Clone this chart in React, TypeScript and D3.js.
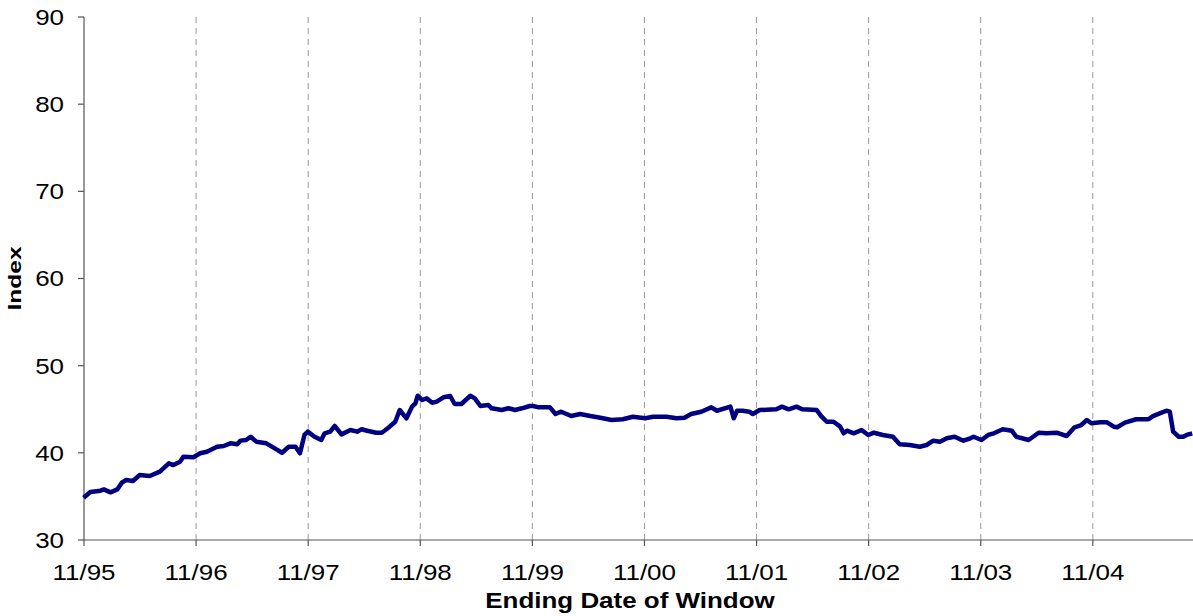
import React from "react";
import * as d3 from "d3";

// x: decimal year (11/95 = 1995.833), y: index value
const years: number[] = [
  1995.83, 1995.89, 1995.98, 1996.01, 1996.07, 1996.13, 1996.17, 1996.21, 1996.27, 1996.33,
  1996.42, 1996.51, 1996.59, 1996.63, 1996.69, 1996.72, 1996.81, 1996.87, 1996.93, 1997.02,
  1997.08, 1997.14, 1997.20, 1997.23, 1997.28, 1997.32, 1997.37, 1997.46, 1997.52, 1997.60,
  1997.66, 1997.72, 1997.76, 1997.80, 1997.83, 1997.89, 1997.95, 1997.98, 1998.03, 1998.07,
  1998.13, 1998.21, 1998.27, 1998.31, 1998.36, 1998.44, 1998.49, 1998.56, 1998.61, 1998.65,
  1998.71, 1998.76, 1998.79, 1998.81, 1998.85, 1998.89, 1998.94, 1998.98, 1999.04, 1999.10,
  1999.14, 1999.20, 1999.28, 1999.32, 1999.37, 1999.44, 1999.47, 1999.56, 1999.62, 1999.68,
  1999.74, 1999.81, 1999.84, 1999.89, 1999.99, 2000.04, 2000.09, 2000.18, 2000.26, 2000.35,
  2000.44, 2000.54, 2000.64, 2000.73, 2000.84, 2000.91, 2001.03, 2001.12, 2001.19, 2001.25,
  2001.34, 2001.43, 2001.48, 2001.60, 2001.63, 2001.66, 2001.71, 2001.77, 2001.80, 2001.86,
  2002.01, 2002.06, 2002.12, 2002.19, 2002.24, 2002.37, 2002.41, 2002.46, 2002.52, 2002.58,
  2002.61, 2002.64, 2002.70, 2002.77, 2002.83, 2002.88, 2002.96, 2003.05, 2003.11, 2003.20,
  2003.29, 2003.35, 2003.41, 2003.47, 2003.53, 2003.60, 2003.65, 2003.68, 2003.74, 2003.77,
  2003.84, 2003.90, 2003.95, 2004.03, 2004.11, 2004.15, 2004.26, 2004.35, 2004.42, 2004.51,
  2004.60, 2004.67, 2004.73, 2004.78, 2004.82, 2004.90, 2004.96, 2005.02, 2005.05, 2005.12,
  2005.22, 2005.33, 2005.37, 2005.43, 2005.49, 2005.52, 2005.55, 2005.60, 2005.64, 2005.67,
  2005.72,
];

const indexValues: number[] = [
  34.85, 35.5, 35.66, 35.8, 35.47, 35.8, 36.57, 36.88, 36.77, 37.46,
  37.34, 37.84, 38.8, 38.6, 38.98, 39.56, 39.49, 39.95, 40.13, 40.7,
  40.78, 41.09, 40.98, 41.4, 41.47, 41.85, 41.28, 41.09, 40.63, 40.01,
  40.7, 40.7, 39.95, 42.05, 42.43, 41.85, 41.47, 42.24, 42.43, 43.08,
  42.12, 42.62, 42.43, 42.7, 42.54, 42.31, 42.31, 43.0, 43.57, 44.91,
  43.96, 45.3, 45.68, 46.55, 46.06, 46.25, 45.75, 45.87, 46.37, 46.52,
  45.6, 45.6, 46.55, 46.25, 45.37, 45.49, 45.11, 44.91, 45.11, 44.91,
  45.11, 45.37, 45.37, 45.22, 45.22, 44.45, 44.72, 44.22, 44.45, 44.22,
  44.03, 43.77, 43.85, 44.14, 43.96, 44.14, 44.14, 43.96, 44.03, 44.45,
  44.72, 45.22, 44.83, 45.3, 43.96, 44.83, 44.83, 44.72, 44.45, 44.91,
  44.99, 45.3, 44.99, 45.3, 44.99, 44.91, 44.22, 43.57, 43.57, 43.0,
  42.24, 42.54, 42.24, 42.62, 42.05, 42.31, 42.05, 41.85, 40.98, 40.9,
  40.7, 40.9, 41.39, 41.28, 41.67, 41.85, 41.55, 41.39, 41.67, 41.85,
  41.47, 42.05, 42.24, 42.7, 42.54, 41.85, 41.47, 42.31, 42.24, 42.31,
  41.93, 42.93, 43.19, 43.77, 43.39, 43.5, 43.5, 43.0, 42.93, 43.46,
  43.85, 43.85, 44.22, 44.53, 44.83, 44.72, 42.43, 41.85, 41.85, 42.05,
  42.24,
];

const xTickYears: number[] = [1995.8333, 1996.8333, 1997.8333, 1998.8333, 1999.8333, 2000.8333, 2001.8333, 2002.8333, 2003.8333, 2004.8333];
const xTickLabels: string[] = ["11/95", "11/96", "11/97", "11/98", "11/99", "11/00", "11/01", "11/02", "11/03", "11/04"];
const yTicks: number[] = [30, 40, 50, 60, 70, 80, 90];

const W = 1193;
const H = 616;
const left = 84;
const right = 1193;
const top = 17;
const bottom = 540;
const SX = 1.18; // horizontal stretch of text seen in the reference
const FONT = "'Liberation Sans', Arial, sans-serif";

export default function App() {
  const x = d3.scaleLinear().domain([1995.8333, 2005.727]).range([left, right]);
  const y = d3.scaleLinear().domain([30, 90]).range([bottom, top]);
  const pts: [number, number][] = years.map((t, i) => [t, indexValues[i]]);
  const line = d3
    .line<[number, number]>()
    .x((d) => x(d[0]))
    .y((d) => y(d[1]));

  return (
    <svg
      width={W}
      height={H}
      style={{ position: "absolute", left: 0, top: 0, background: "#fff" }}
      fontFamily={FONT}
    >
      {xTickYears.slice(1).map((t) => (
        <line
          key={"g" + t}
          x1={x(t)}
          x2={x(t)}
          y1={top}
          y2={bottom}
          stroke="#999"
          strokeWidth={1}
          strokeDasharray="6,5"
        />
      ))}
      <line x1={left} x2={left} y1={top} y2={bottom} stroke="#555" strokeWidth={1.2} />
      {yTicks.map((v) => (
        <g key={"y" + v}>
          <line x1={left - 6} x2={left} y1={y(v)} y2={y(v)} stroke="#555" strokeWidth={1.2} />
          <text
            transform={`translate(${left - 20},${y(v)}) scale(${SX},1)`}
            dy="0.36em"
            textAnchor="end"
            fontSize={22}
            fill="#000"
          >
            {v}
          </text>
        </g>
      ))}
      <line x1={left} x2={right} y1={bottom} y2={bottom} stroke="#555" strokeWidth={1.2} />
      {xTickYears.map((t, i) => (
        <g key={"x" + t}>
          <line x1={x(t)} x2={x(t)} y1={bottom} y2={bottom + 6} stroke="#555" strokeWidth={1.2} />
          <text
            transform={`translate(${x(t)},${bottom + 40}) scale(${SX},1)`}
            textAnchor="middle"
            fontSize={22}
            fill="#000"
          >
            {xTickLabels[i]}
          </text>
        </g>
      ))}
      <path d={line(pts) || ""} fill="none" stroke="#000080" strokeWidth={4.5} strokeLinejoin="round" />
      <text
        transform={`translate(630,608) scale(${SX},1)`}
        textAnchor="middle"
        fontSize={22}
        fontWeight="bold"
        fill="#000"
      >
        Ending Date of Window
      </text>
      <text
        transform={`translate(21,${(top + bottom) / 2 + 0}) rotate(-90)`}
        textAnchor="middle"
        fontSize={19}
        fontWeight="bold"
        fill="#000"
        textLength={64}
        lengthAdjust="spacingAndGlyphs"
      >
        Index
      </text>
    </svg>
  );
}
